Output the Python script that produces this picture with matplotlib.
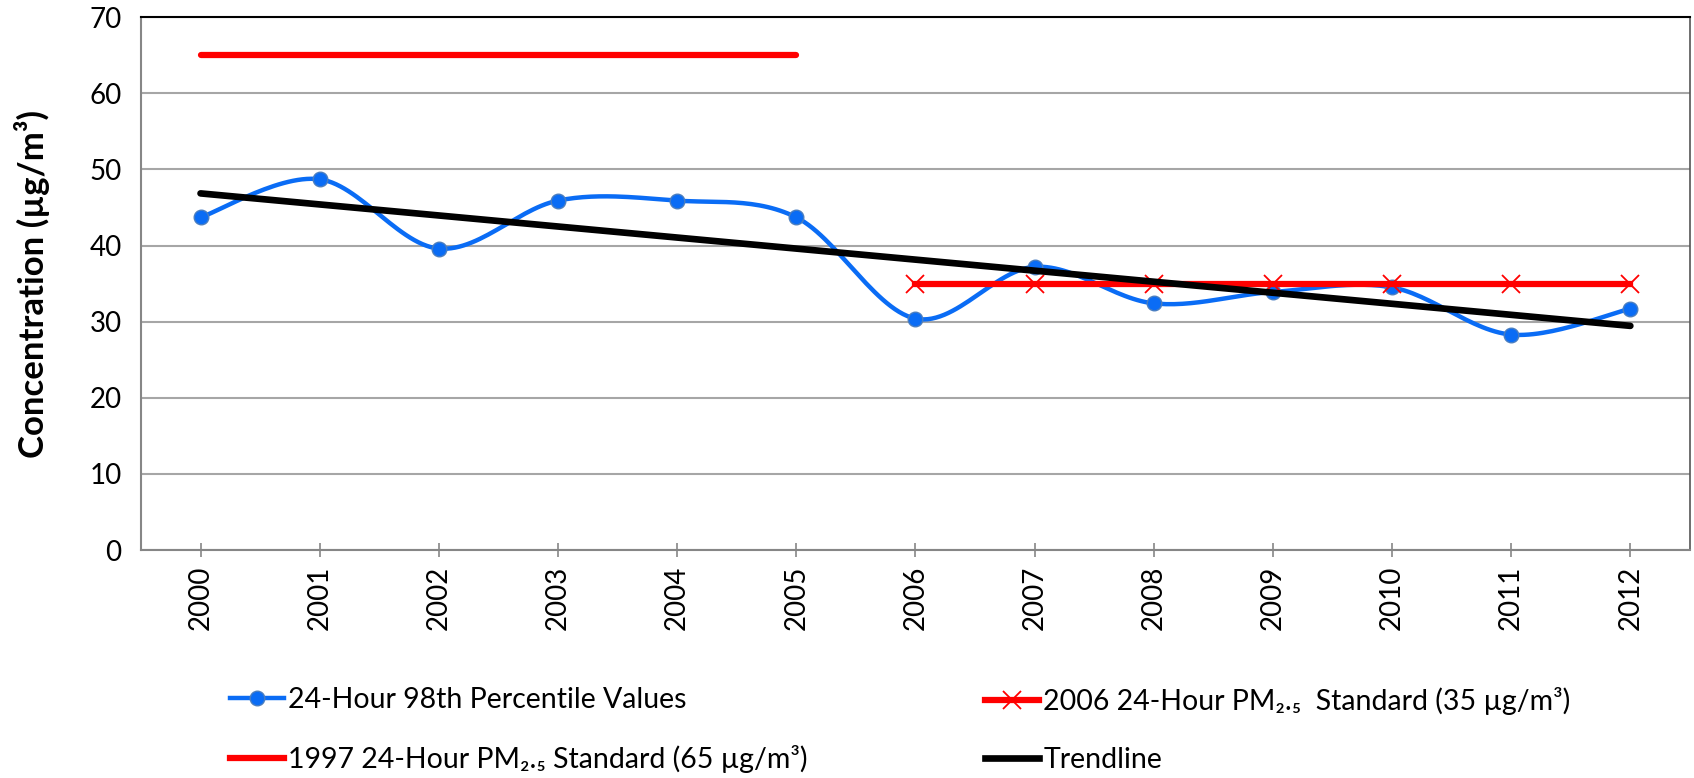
import numpy as np
import matplotlib
matplotlib.use("Agg")
import matplotlib.pyplot as plt
from matplotlib.lines import Line2D

plt.rcParams['font.family'] = ['Lato', 'DejaVu Sans']

years = ["2000", "2001", "2002", "2003", "2004", "2005", "2006",
         "2007", "2008", "2009", "2010", "2011", "2012"]
values = [43.7, 48.7, 39.6, 45.9, 45.9, 43.7, 30.4,
          37.2, 32.4, 33.9, 34.5, 28.3, 31.7]
std_1997 = [65, 65, 65, 65, 65, 65, None, None, None, None, None, None, None]
std_2006 = [None, None, None, None, None, None, 35, 35, 35, 35, 35, 35, 35]


def smooth(x, y, n=30):
    # bezier smoothing like the spreadsheet "smoothed line"
    x = np.asarray(x, float)
    y = np.asarray(y, float)
    px = np.concatenate(([x[0]], x, [x[-1]]))
    py = np.concatenate(([y[0]], y, [y[-1]]))
    xs, ys = [], []
    t = np.linspace(0, 1, n)
    for i in range(1, len(px) - 2):
        p0 = np.array([px[i], py[i]])
        p3 = np.array([px[i + 1], py[i + 1]])
        c1 = p0 + (np.array([px[i + 1], py[i + 1]]) - np.array([px[i - 1], py[i - 1]])) / 6
        c2 = p3 - (np.array([px[i + 2], py[i + 2]]) - np.array([px[i], py[i]])) / 6
        b = ((1 - t) ** 3)[:, None] * p0 + (3 * (1 - t) ** 2 * t)[:, None] * c1 \
            + (3 * (1 - t) * t ** 2)[:, None] * c2 + (t ** 3)[:, None] * p3
        xs.extend(b[:, 0])
        ys.extend(b[:, 1])
    return np.array(xs), np.array(ys)


x = np.arange(len(years))
blue = "#0A6CF5"
red = "#FF0000"

fig = plt.figure(figsize=(16.94, 7.78), dpi=100)
ax = fig.add_axes([0.0832, 0.293, 0.9144, 0.685])

# gridlines
ax.set_ylim(0, 70)
ax.set_xlim(-0.5, len(years) - 0.5)
ax.set_yticks(range(0, 71, 10))
ax.yaxis.grid(True, color="#A6A6A6", linewidth=1.5)
ax.set_axisbelow(True)

sx, sy = smooth(x, values)
ax.plot(sx, sy, color=blue, linewidth=3.2, solid_capstyle="round", zorder=3)
ax.plot(x, values, "o", color=blue, markersize=10.5, markeredgecolor="#4A7EC0",
        markeredgewidth=1, zorder=4)

s97 = np.array([np.nan if v is None else v for v in std_1997], float)
s06 = np.array([np.nan if v is None else v for v in std_2006], float)
ax.plot(x, s97, color=red, linewidth=4.5, solid_capstyle="round", zorder=3)
ax.plot(x, s06, color=red, linewidth=4.5, marker="x", markersize=13,
        markeredgewidth=1.3, zorder=5)

coef = np.polyfit(x, values, 1)
ax.plot(x, np.polyval(coef, x), color="black", linewidth=4.8,
        solid_capstyle="round", zorder=6)

ax.set_xticks(x)
ax.set_xticklabels(years, rotation=90, fontsize=20)
ax.tick_params(axis="x", direction="inout", length=10, width=1.2,
               color="#868686", pad=6)
ax.tick_params(axis="y", length=0, labelsize=20, pad=14)

for s in ["left", "bottom"]:
    ax.spines[s].set_color("#868686")
    ax.spines[s].set_linewidth(1.5)
ax.spines["top"].set_color("black")
ax.spines["top"].set_linewidth(1.5)
ax.spines["right"].set_color("#555555")
ax.spines["right"].set_linewidth(1.2)

ax.set_ylabel("Concentration (µg/m³)", fontsize=25, fontweight="bold", labelpad=28)

h_val = Line2D([], [], color=blue, linewidth=3.2, marker="o", markersize=10.5,
               markeredgecolor="#4A7EC0")
h_97 = Line2D([], [], color=red, linewidth=4.5)
h_06 = Line2D([], [], color=red, linewidth=4.5, marker="x", markersize=13,
              markeredgewidth=1.3)
h_tr = Line2D([], [], color="black", linewidth=4.8)

leg_kw = dict(loc="upper left", frameon=False, fontsize=20.5, handlelength=1.9,
              handletextpad=0.15, labelspacing=1.12, borderpad=0,
              borderaxespad=0)
fig.legend([h_val, h_97],
           ["24-Hour 98th Percentile Values",
            "1997 24-Hour PM₂.₅ Standard (65 µg/m³)"],
           bbox_to_anchor=(0.1358, 0.117), **leg_kw)
fig.legend([h_06, h_tr],
           ["2006 24-Hour PM₂.₅  Standard (35 µg/m³)", "Trendline"],
           bbox_to_anchor=(0.5815, 0.117), **leg_kw)

fig.savefig("out.png", dpi=100)
